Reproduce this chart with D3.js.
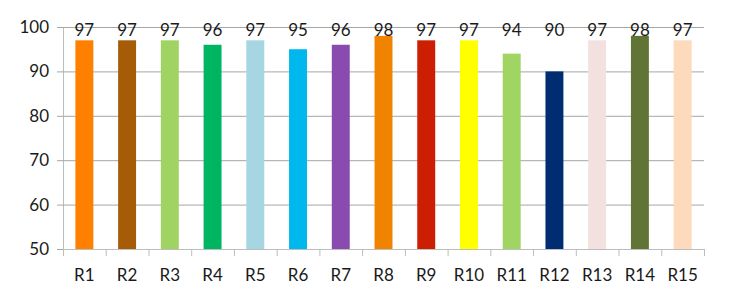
<!DOCTYPE html>
<meta charset="utf-8">
<script src="https://d3js.org/d3.v7.min.js"></script>
<style>
  body { margin: 0; background: #fff; }
  text { font-family: Lato, "Noto Sans", sans-serif; fill: #1a1a1a; }
</style>
<div id="main"></div>
<script>
var width = 738
var height = 292

// chart data
var categories = ["R1","R2","R3","R4","R5","R6","R7","R8","R9","R10","R11","R12","R13","R14","R15"]
var values = [97, 97, 97, 96, 97, 95, 96, 98, 97, 97, 94, 90, 97, 98, 97]
var colors = ["#ff7f00","#a65b06","#a0d462","#00b562","#a6d6e2","#00b8ee","#8a4aaf","#f08300",
              "#cc1e00","#ffff00","#a0d463","#002d72","#f3e1e0","#607535","#fcdabb"]
var yTicks = [50, 60, 70, 80, 90, 100]

var margin = {left: 63, right: 34, top: 27, bottom: 43}

var svg = d3.select("#main")
  .append("svg")
    .attr("width", width)
    .attr("height", height)

var x = d3.scaleBand()
  .domain(categories)
  .range([margin.left, width - margin.right])
  .paddingInner(0.58)
  .paddingOuter(0.29)

var y = d3.scaleLinear()
  .domain([50, 100])
  .range([height - margin.bottom, margin.top])

// gridlines + y labels
var yAxis = svg.append("g")
  .attr("transform", "translate(" + margin.left + ",0)")
  .call(d3.axisLeft(y).tickValues(yTicks).tickSize(6).tickPadding(8))
yAxis.select(".domain").attr("stroke", "#bdbdbd")
yAxis.selectAll(".tick line").attr("stroke", "#a6a6a6")
yAxis.selectAll(".tick text").style("font-size", "17px")

svg.append("g")
  .selectAll("line")
  .data(yTicks.filter(d => d > 50))
  .enter()
  .append("line")
    .attr("x1", margin.left)
    .attr("x2", width - margin.right)
    .attr("y1", d => y(d) + 0.5)
    .attr("y2", d => y(d) + 0.5)
    .attr("stroke", "#a6a6a6")

// bars
svg.append("g")
  .selectAll("rect")
  .data(values)
  .enter()
  .append("rect")
    .attr("x", (d, i) => x(categories[i]))
    .attr("width", x.bandwidth())
    .attr("y", d => y(d))
    .attr("height", d => y(50) - y(d))
    .attr("fill", (d, i) => colors[i])

// x axis
var step = x.step()
var xAxis = svg.append("g")
  .attr("transform", "translate(0," + y(50) + ")")
xAxis.append("line")
  .attr("x1", margin.left).attr("x2", width - margin.right)
  .attr("y1", 0.5).attr("y2", 0.5)
  .attr("stroke", "#bdbdbd")
xAxis.selectAll(".tk")
  .data(d3.range(categories.length + 1))
  .enter()
  .append("line")
    .attr("x1", i => margin.left + i * step + 0.5)
    .attr("x2", i => margin.left + i * step + 0.5)
    .attr("y1", 0).attr("y2", 7)
    .attr("stroke", "#bdbdbd")
xAxis.selectAll("text")
  .data(categories)
  .enter()
  .append("text")
    .attr("x", d => x(d) + x.bandwidth() / 2)
    .attr("y", 28)
    .attr("text-anchor", "middle")
    .attr("dominant-baseline", "middle")
    .style("font-size", "17px")
    .text(d => d)

// value labels
svg.append("g")
  .selectAll("text")
  .data(values)
  .enter()
  .append("text")
    .attr("x", (d, i) => x(categories[i]) + x.bandwidth() / 2)
    .attr("y", y(100) + 5)
    .attr("text-anchor", "middle")
    .attr("dominant-baseline", "middle")
    .style("font-size", "17px")
    .text(d => d)
</script>
